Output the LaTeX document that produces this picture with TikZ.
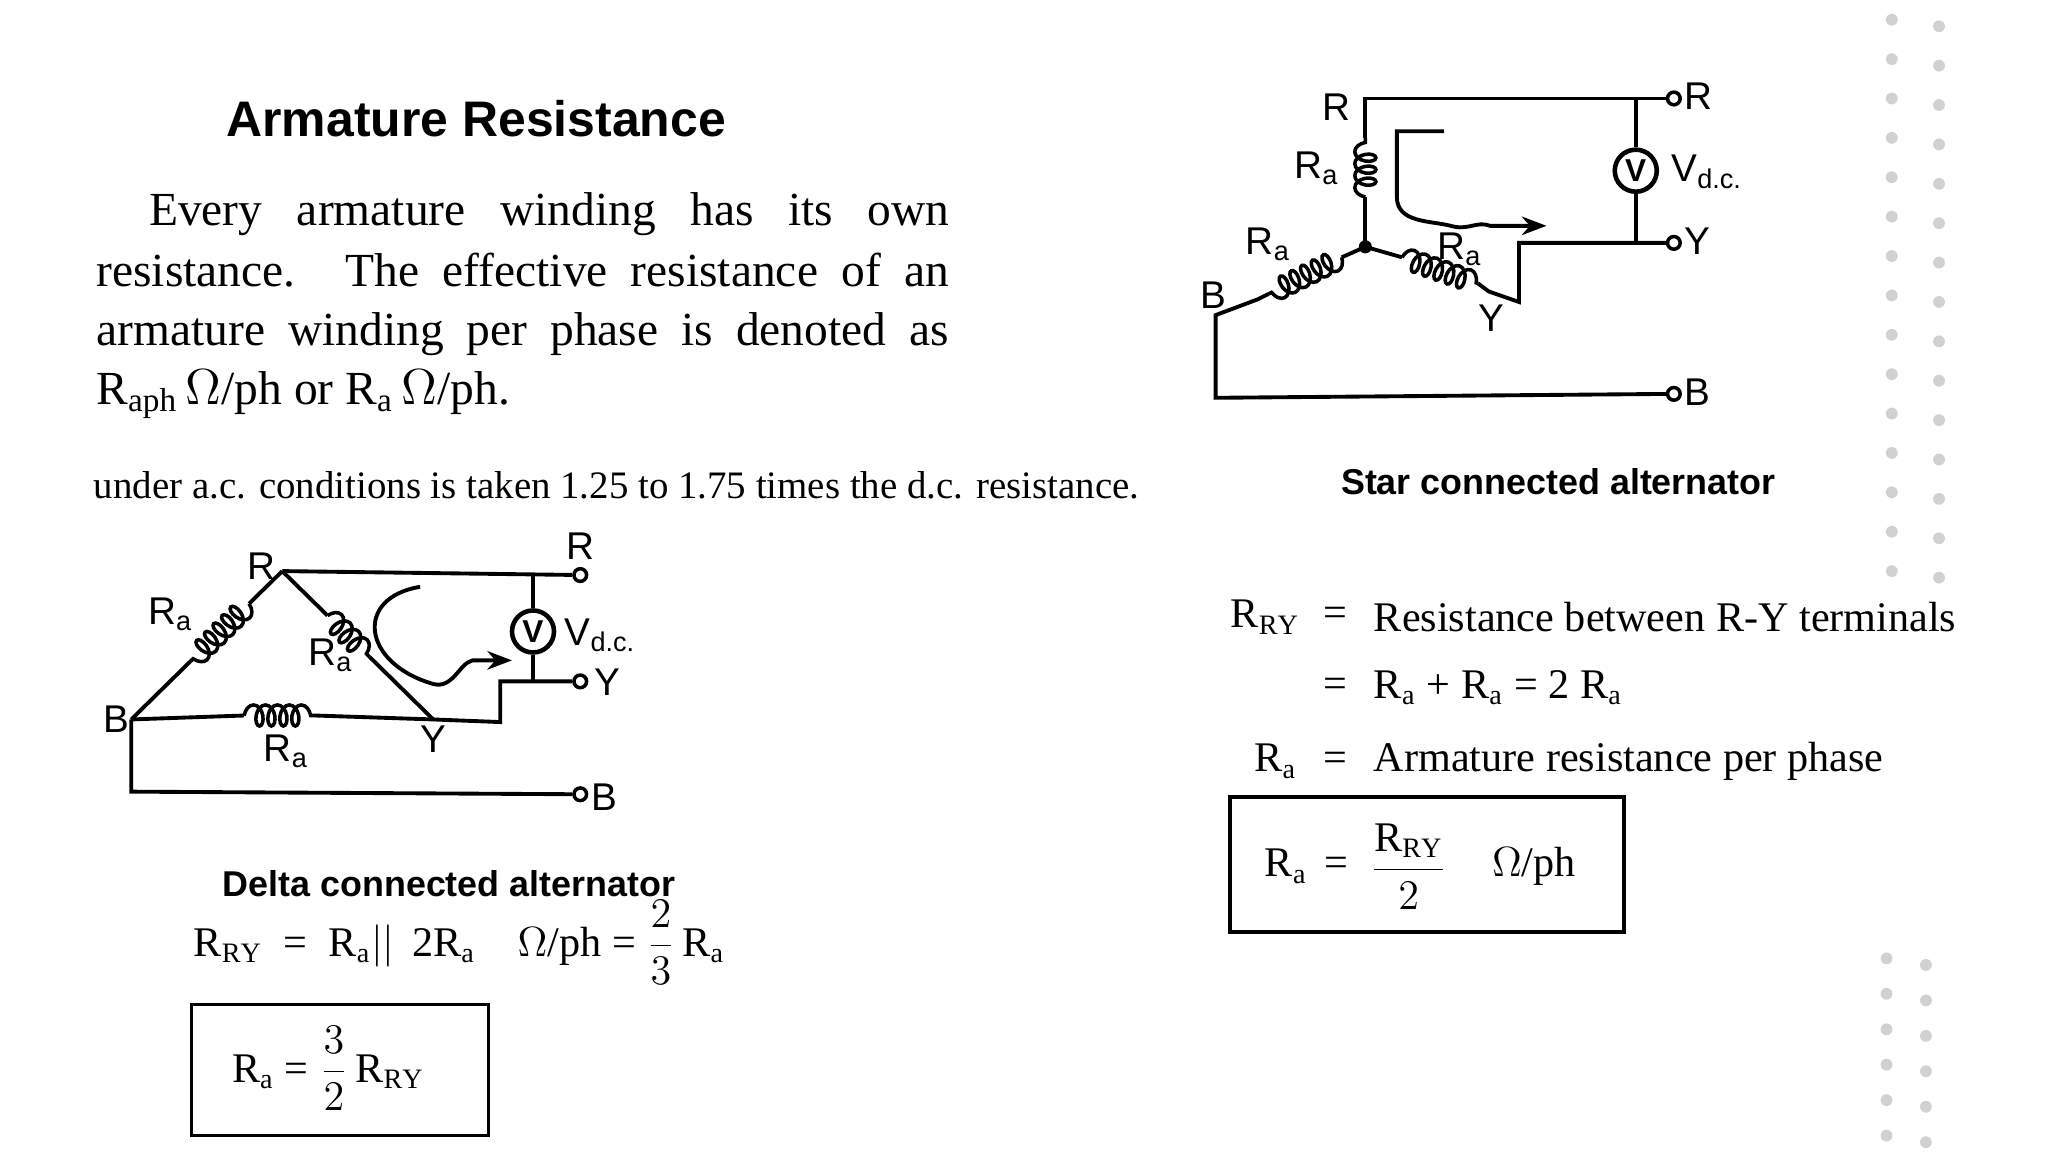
\documentclass[tikz,border=0pt]{standalone}
\usepackage{fontspec}
\setmainfont{Liberation Serif}
\setsansfont{Liberation Sans}
\usetikzlibrary{decorations.pathmorphing,arrows.meta,calc}
\begin{document}
\begin{tikzpicture}[x=0.013128cm,y=-0.013128cm,
  wire/.style={line width=1.1pt},
  coilw/.style={line width=1pt,decorate,decoration={coil,aspect=0.6,amplitude=3pt,segment length=3.4pt}},
  term/.style={circle,draw,line width=1pt,inner sep=0pt,minimum size=3.6pt,fill=white},
  vm/.style={circle,draw,line width=1.3pt,inner sep=0pt,minimum size=0.42cm,font=\sffamily\bfseries\small},
  lab/.style={font=\sffamily\fontsize{11}{11}\selectfont,inner sep=1pt},
  captext/.style={font=\sffamily\bfseries\fontsize{10.2}{12}\selectfont},
  eq/.style={font=\fontsize{12}{15}\selectfont,inner sep=0pt},
  body/.style={font=\fontsize{13.5}{16}\selectfont,inner sep=0pt,anchor=base west},
  dot/.style={fill=black!18,draw=none}]
\useasboundingbox (0,0) rectangle (1560,877.5);
\fill[white] (0,0) rectangle (1560,877.5);
% decorative dots
\foreach \y in {15,45,...,435} {\fill[dot] (1441,\y) circle (4.5); \fill[dot] (1477,\y+5) circle (4.5);}
\foreach \y in {730,757,...,865} {\fill[dot] (1437,\y) circle (4.5); \fill[dot] (1467,\y+5) circle (4.5);}
% title and text
\node[font=\sffamily\bfseries\fontsize{14.2}{16}\selectfont,anchor=base west,inner sep=0pt] (title) at (172,104) {Armature Resistance};
\node[body] (l1) at (113,172) {\makebox[8.0cm][s]{Every armature winding has its own}};
\node[body] (l2) at (73,218) {\makebox[8.52cm][s]{resistance. The effective resistance of an}};
\node[body] (l3) at (73,263) {\makebox[8.52cm][s]{armature winding per phase is denoted as}};
\node[body] (l4) at (73,308) {R\textsubscript{aph}\,$\Omega$/ph or R\textsubscript{a}\,$\Omega$/ph.};
\node[body] (under) at (71,380) {\resizebox{10.45cm}{!}{under a.c. conditions is taken 1.25 to 1.75 times the d.c. resistance.}};

% ---------- STAR ----------
\coordinate (N) at (1040,188);
\coordinate (Rt) at (1040,75);
\coordinate (Rc1) at (1040,150); \coordinate (Rc2) at (1040,105);
\coordinate (Bc1) at (1022,196); \coordinate (Bc2) at (966,224);
\coordinate (Be) at (958,228);
\coordinate (Yc1) at (1068,196); \coordinate (Yc2) at (1126,216);
\coordinate (Ye) at (1134,222);
\node[term] (sR) at (1275,75) {};
\node[term] (sY) at (1275,185) {};
\node[term] (sB) at (1275,300) {};
\node[vm] (sV) at (1246,130) {V};
\fill (N) circle (5);
\draw[wire] (N) -- (Rc1); \draw[coilw] (Rc1) -- (Rc2); \draw[wire] (Rc2) -- (Rt) -- (sR);
\draw[wire] (N) -- (Bc1); \draw[coilw] (Bc1) -- (Bc2); \draw[wire] (Bc2) -- (Be) -- (926,240) -- (926,303) -- (sB);
\draw[wire] (N) -- (Yc1); \draw[coilw] (Yc1) -- (Yc2); \draw[wire] (Yc2) -- (Ye) -- (1157,230) -- (1157,185) -- (sY);
\draw[wire] (1246,75) -- (sV) -- (1246,185);
\draw[line width=1.1pt,-{Stealth[length=7pt]}] (1100,100) -- (1064,100) -- (1064,150) .. controls (1064,170) and (1090,168) .. (1105,172) .. controls (1118,176) and (1125,168) .. (1135,172) -- (1178,172);
\node[lab,anchor=east] at (1032,82) {R};
\node[lab] at (1003,128) {R\textsubscript{a}};
\node[lab] at (966,186) {R\textsubscript{a}};
\node[lab] at (1112,190) {R\textsubscript{a}};
\node[lab] at (924,225) {B};
\node[lab] at (1136,242) {Y};
\node[lab,anchor=west] at (1280,73) {R};
\node[lab,anchor=west] at (1280,184) {Y};
\node[lab,anchor=west] at (1280,299) {B};
\node[lab,anchor=west] at (1270,131) {V\textsubscript{d.c.}};
\node[captext] (starcap) at (1187,367) {Star connected alternator};

% ---------- DELTA ----------
\coordinate (dR) at (215,435); \coordinate (dB) at (100,548); \coordinate (dY) at (330,548);
\node[term] (tR) at (442,438) {};
\node[term] (tY) at (442,519) {};
\node[term] (tB) at (442,605) {};
\node[vm] (dV) at (406,481) {V};
\draw[wire] (dR) -- ($(dR)!0.22!(dB)$); \draw[coilw] ($(dR)!0.22!(dB)$) -- ($(dR)!0.6!(dB)$); \draw[wire] ($(dR)!0.6!(dB)$) -- (dB);
\draw[wire] (dR) -- ($(dR)!0.3!(dY)$); \draw[coilw] ($(dR)!0.3!(dY)$) -- ($(dR)!0.58!(dY)$); \draw[wire] ($(dR)!0.58!(dY)$) -- (dY);
\draw[wire] (dB) -- (186,545); \draw[coilw] (186,545) -- (240,545); \draw[wire] (240,545) -- (dY);
\draw[wire] (dR) -- (tR);
\draw[wire] (dY) -- (381,550) -- (381,519) -- (tY);
\draw[wire] (dB) -- (100,603) -- (tB);
\draw[wire] (406,438) -- (dV) -- (406,519);
\draw[line width=1.1pt,-{Stealth[length=7pt]}] (320,447) .. controls (270,455) and (275,505) .. (330,521) .. controls (345,525) and (350,505) .. (360,503) -- (390,503);
\node[lab] at (199,431) {R};
\node[lab] at (130,468) {R\textsubscript{a}};
\node[lab] at (252,499) {R\textsubscript{a}};
\node[lab] at (218,572) {R\textsubscript{a}};
\node[lab] at (89,548) {B};
\node[lab] at (330,563) {Y};
\node[lab] at (442,416) {R};
\node[lab,anchor=west] at (450,520) {Y};
\node[lab,anchor=west] at (447,607) {B};
\node[lab,anchor=west] at (427,484) {V\textsubscript{d.c.}};
\node[captext] (deltacap) at (342,673) {Delta connected alternator};

% ---------- equations ----------
\node[eq,anchor=west] (e1) at (147,718) {R$_{\mathrm{RY}}$\enspace =\enspace R$_{\mathrm{a}}$$||$\, 2R$_{\mathrm{a}}$\quad $\Omega$/ph = $\displaystyle\frac{2}{3}$\,R$_{\mathrm{a}}$};
\draw[line width=1pt] (146,765) rectangle (372,865);
\node[eq] (e2) at (250,814) {R$_{\mathrm{a}}$ = $\displaystyle\frac{3}{2}$\,R$_{\mathrm{RY}}$};

\node[eq,anchor=west] (r1) at (937,470) {R$_{\mathrm{RY}}$};
\node[eq] at (1017,470) {=};
\node[eq,anchor=west] (r1b) at (1046,470) {Resistance between R-Y terminals};
\node[eq] at (1017,524) {=};
\node[eq,anchor=west] (r2) at (1046,524) {R$_{\mathrm{a}}$ + R$_{\mathrm{a}}$ = 2 R$_{\mathrm{a}}$};
\node[eq,anchor=west] (r3) at (955,580) {R$_{\mathrm{a}}$};
\node[eq] at (1017,580) {=};
\node[eq,anchor=west] (r3b) at (1046,580) {Armature resistance per phase};
\draw[line width=1pt] (937,607) rectangle (1237,710);
\node[eq,anchor=west] (r4a) at (963,660) {R$_{\mathrm{a}}$\, =};
\node[eq] (r4b) at (1073,660) {$\displaystyle\frac{\mbox{R$_{\mathrm{RY}}$}}{2}$};
\node[eq,anchor=west] (r4c) at (1136,660) {$\Omega$/ph};
\end{tikzpicture}
\end{document}
